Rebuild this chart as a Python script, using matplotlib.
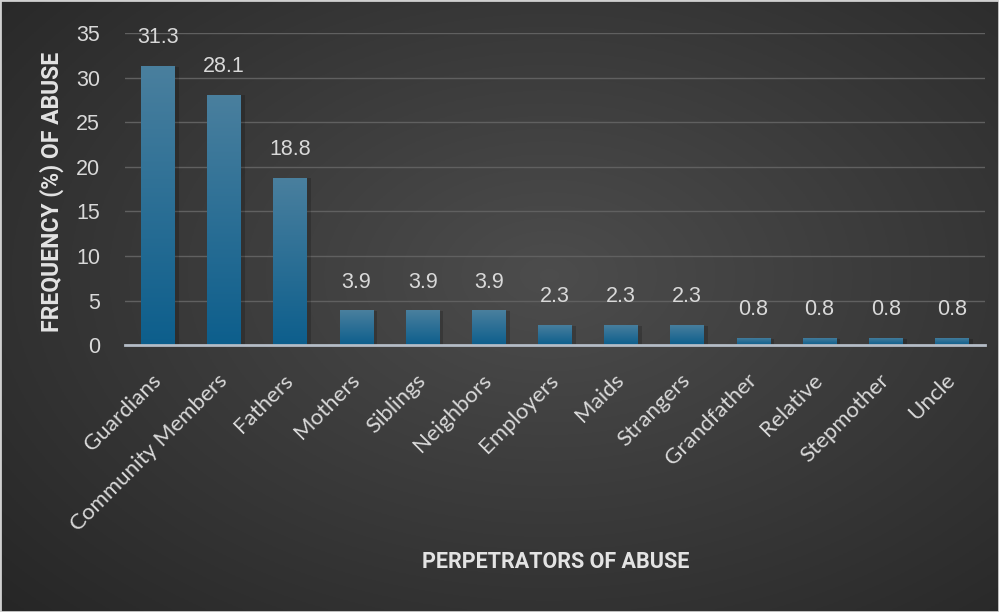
import numpy as np
import matplotlib
matplotlib.use("Agg")
import matplotlib.pyplot as plt
from matplotlib.patches import Rectangle

# data
perpetrators = ["Guardians", "Community Members", "Fathers", "Mothers", "Siblings",
                "Neighbors", "Employers", "Maids", "Strangers", "Grandfather",
                "Relative", "Stepmother", "Uncle"]
frequency = [31.3, 28.1, 18.8, 3.9, 3.9, 3.9, 2.3, 2.3, 2.3, 0.8, 0.8, 0.8, 0.8]
y_ticks = [0, 5, 10, 15, 20, 25, 30, 35]

fig = plt.figure(figsize=(9.99, 6.12), dpi=100)

# radial background, lighter near the middle
bg = fig.add_axes([0, 0, 1, 1])
yy, xx = np.mgrid[0:1:300j, 0:1:500j]
r = np.sqrt(((xx - 0.55) / 0.75) ** 2 + ((yy - 0.45) / 0.8) ** 2)
shade = np.clip(0.30 - 0.15 * r, 0.15, 0.30)
bg.imshow(np.dstack([shade, shade, shade]), extent=[0, 1, 0, 1], aspect="auto")
bg.add_patch(Rectangle((0, 0), 1, 1, fill=False, edgecolor="#d0d0d0", linewidth=2,
                       transform=bg.transAxes))
bg.set_axis_off()

ax = fig.add_axes([0.125, 0.436, 0.861, 0.51])
ax.set_facecolor("none")
x = np.arange(len(perpetrators))
bars = ax.bar(x, frequency, width=0.51, color="#1a6591", zorder=3)

# vertical gradient on each bar
grad = np.linspace(0, 1, 256).reshape(-1, 1)
top = np.array([0.29, 0.50, 0.62])
bot = np.array([0.05, 0.37, 0.55])
img = grad[..., None] * top + (1 - grad[..., None]) * bot
for b in bars:
    x0, w, h = b.get_x(), b.get_width(), b.get_height()
    # soft shadow
    ax.bar(x0 + w / 2 + 0.03, h, width=w + 0.06, bottom=-0.1, color="black",
           alpha=0.18, zorder=2)
    im = ax.imshow(img, extent=[x0, x0 + w, 0, h], aspect="auto", origin="lower",
                   zorder=4)
    im.set_clip_path(b)
    ax.text(x0 + w / 2, h + 2.0, f"{h:.1f}", ha="center", va="bottom",
            fontsize=15.5, color="#d9d9d9", family="Liberation Sans", zorder=5)

ax.set_xlim(-0.5, len(perpetrators) - 0.5)
ax.set_ylim(0, 35)
ax.set_yticks(y_ticks)
ax.yaxis.grid(True, color="#606060", linewidth=1, zorder=0)
ax.set_axisbelow(True)
for s in ["top", "right", "left"]:
    ax.spines[s].set_visible(False)
ax.spines["bottom"].set_color("#b4bcc6")
ax.spines["bottom"].set_linewidth(2)
ax.spines["bottom"].set_zorder(6)
ax.tick_params(axis="both", length=0)
ax.tick_params(axis="y", pad=18)
for t in ax.get_yticklabels():
    t.set_fontfamily("Liberation Sans")
    t.set_fontsize(15.5)
    t.set_color("#d9d9d9")

ax.set_xticks(x)
ax.set_xticklabels(perpetrators, rotation=45, ha="right", va="center",
                   rotation_mode="anchor", fontsize=16, color="#d9d9d9", family="Lato")
ax.tick_params(axis="x", pad=23)

fig.text(0.052, 0.686, "FREQUENCY (%) OF ABUSE", rotation=90, ha="center", va="center",
         fontsize=16.5, fontweight="bold", color="#e3e3e3", family="Roboto")
fig.text(0.556, 0.082, "PERPETRATORS OF ABUSE", ha="center", va="center",
         fontsize=15.5, fontweight="bold", color="#e3e3e3", family="Roboto")

fig.savefig("out.png", dpi=100)
